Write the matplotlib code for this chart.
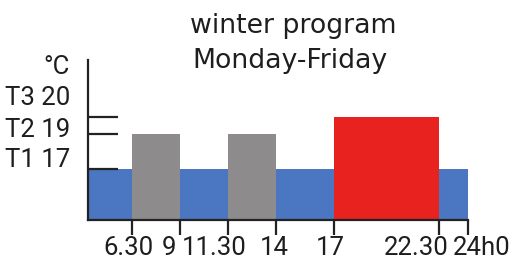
import matplotlib
matplotlib.use("Agg")
import matplotlib.pyplot as plt
import matplotlib.transforms as mtransforms

# Data
seg_start = [0, 6.5, 9, 11.5, 14, 17, 22.5]
seg_end = [6.5, 9, 11.5, 14, 17, 22.5, 24]
seg_temp = [17, 19, 17, 19, 17, 20, 17]
seg_level = ["T1", "T2", "T1", "T2", "T1", "T3", "T1"]
level_colors = {"T1": "#4a76c2", "T2": "#8e8b8d", "T3": "#e8231f"}

xticks = [6.5, 9, 11.5, 14, 17, 22.5, 24]
xtick_labels = ["6.30", "9", "11.30", "14", "17", "22.30", "24h0"]
yticks = [17, 19, 20]
ylabels = ["°C", "T3 20", "T2 19", "T1 17"]
title_lines = ["winter program", "Monday-Friday"]

FONT = "Roboto"
FS = 18.5
TXT = "#1e1e1e"

fig = plt.figure(figsize=(5.12, 2.62), dpi=100)
ax = fig.add_axes([88 / 512, (262 - 220) / 262, 380 / 512, 160 / 262])

for s, e, t, lv in zip(seg_start, seg_end, seg_temp, seg_level):
    ax.bar(s, t, width=e - s, align="edge", color=level_colors[lv], linewidth=0, zorder=1)

ax.set_xlim(4.22, 24)
ax.set_ylim(14.07, 23.26)

for side in ["top", "right"]:
    ax.spines[side].set_visible(False)
for side in ["left", "bottom"]:
    ax.spines[side].set_linewidth(1.6)
    ax.spines[side].set_color("#222222")
    ax.spines[side].set_zorder(3)

ax.set_xticks(xticks)
ax.set_xticklabels([])
ax.tick_params(axis="x", direction="out", length=11, width=1.6, color="#222222")
ax.set_yticks(yticks)
ax.set_yticklabels([])
ax.tick_params(axis="y", direction="in", length=21.5, width=1.6, color="#222222")

# x tick labels with individual offsets (pixels)
x_offsets = [-3.4, -10.7, -14, -1.7, -3, -22.7, 14]
for xt, lab, off in zip(xticks, xtick_labels, x_offsets):
    tr = ax.get_xaxis_transform() + mtransforms.ScaledTranslation(off / 100, 0, fig.dpi_scale_trans)
    ax.text(xt, -35 / 160, lab, transform=tr, ha="center", va="baseline",
            fontsize=FS, family=FONT, color=TXT)

# y labels
y_frac = [0.911, 0.719, 0.52, 0.333]
for yf, lab in zip(y_frac, ylabels):
    ax.text(-18 / 380, yf, lab, transform=ax.transAxes, ha="right", va="baseline",
            fontsize=FS, family=FONT, color=TXT)

fig.text(293.5 / 512, 1 - 33 / 262, title_lines[0], ha="center", va="baseline",
         fontsize=19.3, family="DejaVu Sans", color=TXT)
fig.text(290 / 512, 1 - 68.3 / 262, title_lines[1], ha="center", va="baseline",
         fontsize=19.3, family="DejaVu Sans", color=TXT)

fig.savefig("out.png", dpi=100)
